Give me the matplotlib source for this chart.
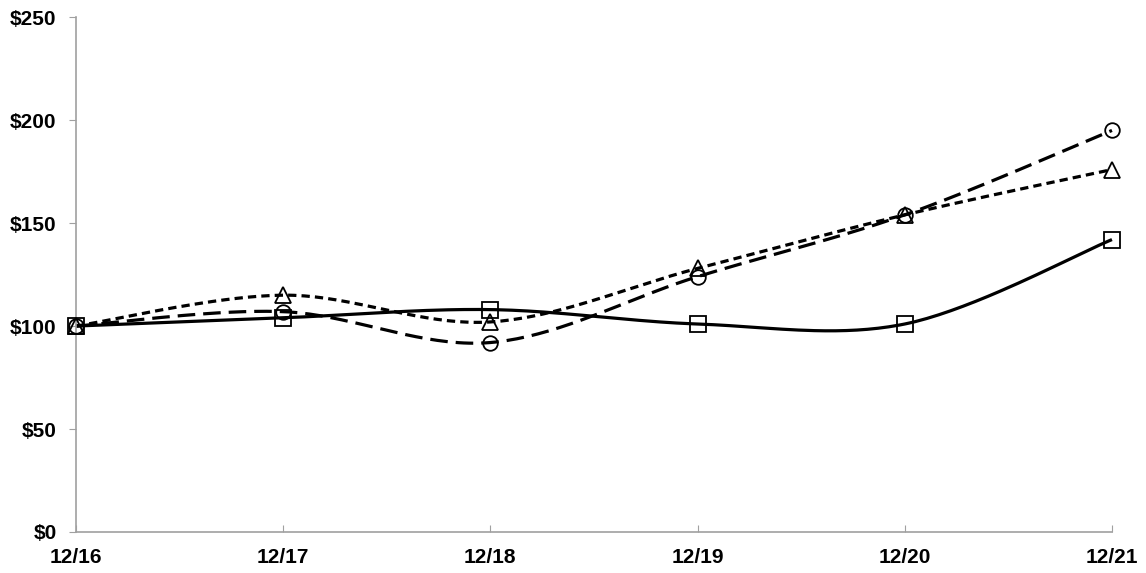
import numpy as np
import matplotlib
matplotlib.use("Agg")
import matplotlib.pyplot as plt

# Cumulative value of a $100 investment
periods = ["12/16", "12/17", "12/18", "12/19", "12/20", "12/21"]
company = [100, 104, 108, 101, 101, 142]
index_a = [100, 107, 92, 124, 154, 195]
index_b = [100, 115, 102, 128, 154, 176]

y_ticks = [0, 50, 100, 150, 200, 250]


def smooth(xs, ys, n=40):
    """Cubic Bezier spline through the points (Catmull-Rom style)."""
    xs = np.asarray(xs, float)
    ys = np.asarray(ys, float)
    px = np.concatenate([[xs[0]], xs, [xs[-1]]])
    py = np.concatenate([[ys[0]], ys, [ys[-1]]])
    out_x, out_y = [], []
    t = np.linspace(0, 1, n)
    for i in range(1, len(px) - 2):
        p0 = np.array([px[i], py[i]])
        p3 = np.array([px[i + 1], py[i + 1]])
        c1 = p0 + (np.array([px[i + 1], py[i + 1]]) - np.array([px[i - 1], py[i - 1]])) / 6
        c2 = p3 - (np.array([px[i + 2], py[i + 2]]) - np.array([px[i], py[i]])) / 6
        b = ((1 - t) ** 3)[:, None] * p0 + (3 * (1 - t) ** 2 * t)[:, None] * c1 \
            + (3 * (1 - t) * t ** 2)[:, None] * c2 + (t ** 3)[:, None] * p3
        out_x.extend(b[:, 0])
        out_y.extend(b[:, 1])
    return np.array(out_x), np.array(out_y)


plt.rcParams["font.family"] = ["Liberation Sans", "DejaVu Sans"]

fig = plt.figure(figsize=(11.46, 5.73), dpi=100)
ax = fig.add_axes([0.0663, 0.0716, 0.9040, 0.8984])

x = np.arange(len(periods))
series = [
    (company, "-", "s", 12),
    (index_a, (0, (5.5, 2.5)), "o", 10.5),
    (index_b, (0, (2.6, 1.6)), "^", 11),
]
for vals, ls, mk, ms in series:
    sx, sy = smooth(x, vals)
    ax.plot(sx, sy, color="black", lw=2.3, linestyle=ls, clip_on=False,
            solid_capstyle="butt", dash_capstyle="butt")
    ax.plot(x, vals, linestyle="none", marker=mk, markersize=ms,
            markerfacecolor="none", markeredgecolor="black",
            markeredgewidth=1.3, clip_on=False, zorder=3)

ax.set_xlim(0, len(periods) - 1)
ax.set_ylim(0, 250)
ax.set_xticks(x)
ax.set_xticklabels(periods)
ax.set_yticks(y_ticks)
ax.set_yticklabels([f"${v}" for v in y_ticks])

for side in ("top", "right"):
    ax.spines[side].set_visible(False)
for side in ("left", "bottom"):
    ax.spines[side].set_color("#a0a0a0")
    ax.spines[side].set_linewidth(1.2)

ax.tick_params(axis="y", direction="out", length=5, color="#a0a0a0",
               labelsize=15, pad=9)
ax.tick_params(axis="x", direction="in", length=5, color="#a0a0a0",
               labelsize=15, pad=11.5)
for lab in ax.get_xticklabels() + ax.get_yticklabels():
    lab.set_fontweight("bold")

fig.savefig("out.png", dpi=100)
